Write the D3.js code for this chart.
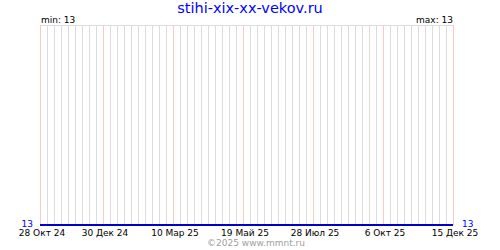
<!DOCTYPE html>
<html>
<head>
<meta charset="utf-8">
<script src="https://cdn.jsdelivr.net/npm/d3@7"></script>
<style>
  body { margin: 0; background: #fff; }
  text { font-family: "DejaVu Sans", sans-serif; }
</style>
</head>
<body>
<svg id="chart" width="500" height="250"></svg>
<script>
// data
var siteTitle = "stihi-xix-xx-vekov.ru";
var footer = "\u00a92025 www.mmnt.ru";
var dates = ["2024-10-28", "2024-12-30", "2025-03-10", "2025-05-19", "2025-07-28", "2025-10-06", "2025-12-15"];
var values = [13, 13, 13, 13, 13, 13, 13];
var monthNames = ["Янв", "Фев", "Мар", "Апр", "Май", "Июн", "Июл", "Авг", "Сен", "Окт", "Ноя", "Дек"];

var plotLeft = 40, plotRight = 453, plotTop = 25, plotBottom = 225;

var svg = d3.select("#chart");
var parse = d3.utcParse("%Y-%m-%d");
var points = dates.map((d, i) => ({date: parse(d), value: values[i]}));

var x = d3.scaleUtc()
    .domain([points[0].date, points[points.length - 1].date])
    .range([plotLeft, plotRight]);

var minV = d3.min(values), maxV = d3.max(values);
var y = d3.scaleLinear()
    .domain([minV, maxV === minV ? minV + 1 : maxV])
    .range([plotBottom, plotTop]);

// weekly grid, every 10th week (from 30 Dec) in pink
var weeks = d3.utcMonday.range(x.domain()[0], d3.utcDay.offset(x.domain()[1], 1));
var majors = weeks.filter((d, i) => i === 0 || (i - 9) % 10 === 0);

svg.append("line")
    .attr("x1", plotLeft).attr("x2", plotRight + 1)
    .attr("y1", plotTop + 0.5).attr("y2", plotTop + 0.5)
    .attr("stroke", "#dcdcdc");

svg.selectAll(".week")
    .data(weeks)
    .join("line")
    .attr("class", "week")
    .attr("x1", d => Math.round(x(d)) + 0.5)
    .attr("x2", d => Math.round(x(d)) + 0.5)
    .attr("y1", plotTop)
    .attr("y2", plotBottom)
    .attr("stroke", d => majors.some(m => +m === +d) ? "#ffc8c8" : "#dcdcdc");

// series
var line = d3.line()
    .x(d => x(d.date))
    .y(d => y(d.value));

svg.append("path")
    .datum(points)
    .attr("d", line)
    .attr("fill", "none")
    .attr("stroke", "#0000c8")
    .attr("stroke-width", 2);

// labels
svg.append("text")
    .attr("x", 250).attr("y", 13)
    .attr("text-anchor", "middle")
    .attr("fill", "#0000ff")
    .style("font-size", "14.5px")
    .text(siteTitle);

svg.append("text")
    .attr("x", plotLeft + 1).attr("y", 23)
    .style("font-size", "9px")
    .text("min: " + minV);

svg.append("text")
    .attr("x", plotRight).attr("y", 23)
    .attr("text-anchor", "end")
    .style("font-size", "9px")
    .text("max: " + maxV);

svg.append("text")
    .attr("x", plotLeft - 7).attr("y", y(values[0]) + 2)
    .attr("text-anchor", "end")
    .attr("fill", "#0000ff")
    .style("font-size", "9px")
    .text(values[0]);

svg.append("text")
    .attr("x", plotRight + 9).attr("y", y(values[values.length - 1]) + 2)
    .attr("fill", "#0000ff")
    .style("font-size", "9px")
    .text(values[values.length - 1]);

svg.selectAll(".tick")
    .data(majors)
    .join("text")
    .attr("class", "tick")
    .attr("x", d => x(d) + 2)
    .attr("y", 236)
    .attr("text-anchor", "middle")
    .style("font-size", "9px")
    .text(d => d.getUTCDate() + " " + monthNames[d.getUTCMonth()] + " " + String(d.getUTCFullYear()).slice(2));

svg.append("text")
    .attr("x", 256).attr("y", 246)
    .attr("text-anchor", "middle")
    .attr("fill", "#a0a0a0")
    .style("font-size", "9px")
    .text(footer);
</script>
</body>
</html>
